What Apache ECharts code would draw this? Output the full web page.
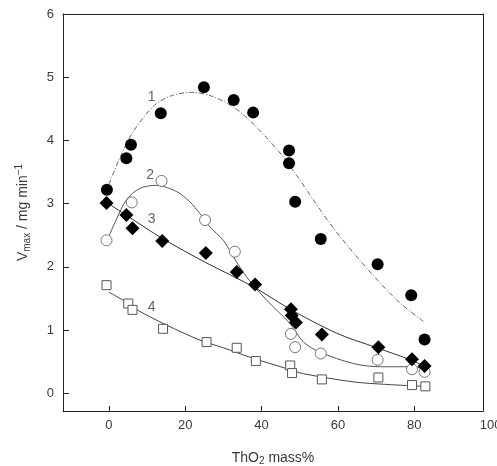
<!DOCTYPE html>
<html>
<head>
<meta charset="utf-8">
<script src="https://cdn.jsdelivr.net/npm/echarts@6/dist/echarts.min.js"></script>
<style>html,body{margin:0;padding:0;background:#fff;}#c{width:497px;height:466px;}</style>
</head>
<body>
<div id="c"></div>
<script>
// ---- data ----
const xTickValues = [0, 20, 40, 60, 80];
const xLabelValues = [0, 20, 40, 60, 80, 100];
const yTickValues = [0, 1, 2, 3, 4, 5, 6];

const points1 = [[-0.5,3.22],[4.6,3.72],[5.8,3.93],[13.6,4.43],[24.9,4.84],[32.7,4.64],[37.8,4.44],[47.2,3.84],[47.2,3.64],[48.8,3.03],[55.5,2.44],[70.4,2.04],[79.2,1.55],[82.7,0.85]];
const points2 = [[-0.6,2.42],[6.0,3.02],[13.8,3.36],[25.2,2.74],[33.0,2.24],[47.7,0.94],[48.8,0.73],[55.5,0.63],[70.4,0.53],[79.4,0.38],[82.7,0.34]];
const points3 = [[-0.6,3.01],[4.6,2.82],[6.2,2.61],[14.0,2.41],[25.4,2.22],[33.5,1.92],[38.3,1.72],[47.7,1.33],[47.9,1.23],[49.0,1.12],[55.8,0.93],[70.6,0.73],[79.4,0.54],[82.7,0.43]];
const points4 = [[-0.6,1.71],[5.1,1.42],[6.2,1.32],[14.2,1.02],[25.6,0.81],[33.5,0.72],[38.5,0.51],[47.5,0.44],[48.0,0.32],[55.8,0.22],[70.6,0.25],[79.4,0.13],[82.9,0.11]];

const curve1 = [[0,3.3],[3,3.74],[6.4,4.14],[12,4.56],[17,4.72],[22,4.76],[27,4.7],[32.6,4.53],[38.7,4.21],[45.7,3.74],[48.8,3.48],[58,2.68],[65.8,2.1],[75.5,1.47],[82.6,1.13]];
const curve2 = [[-0.2,2.45],[1.6,2.7],[4.6,3.06],[8.1,3.24],[12.4,3.29],[17.8,3.19],[21.2,3.03],[23.9,2.84],[26.5,2.63],[30,2.42],[32.6,2.16],[36.1,1.84],[41.4,1.47],[47.5,1.1],[51,0.81],[55.3,0.65],[64.1,0.47],[71.1,0.42],[79,0.42],[82.7,0.39]];
const curve3 = [[-0.6,3.02],[5,2.8],[14,2.45],[25,2.08],[38,1.68],[47.5,1.33],[59.7,0.95],[70.2,0.72],[79,0.53],[82.9,0.42]];
const curve4 = [[0,1.6],[3.8,1.47],[7.7,1.31],[15.1,1.08],[23.9,0.84],[30,0.72],[37,0.57],[46.6,0.39],[51,0.31],[64.1,0.18],[72.8,0.14],[82.4,0.11]];

const curveLabelNames = ['1', '2', '3', '4'];
const curveLabelPos = [[11.2,4.68],[10.8,3.45],[11.2,2.76],[11.2,1.37]];

// ---- chart ----
const chart = echarts.init(document.getElementById('c'), null, {renderer: 'canvas'});
const axisColor = '#222';
const textColor = '#3a3a3a';
const font = 'Liberation Sans, Arial, sans-serif';

function curveSeries(data, color, type) {
  return {type: 'line', data: data, smooth: 0.3, symbol: 'none', silent: true,
    xAxisIndex: 0, yAxisIndex: 0,
    lineStyle: {color: color, width: 1, type: type || 'solid'}, z: 2};
}
function pointSeries(data, symbol, size, style) {
  return {type: 'scatter', data: data, symbol: symbol, symbolSize: size,
    xAxisIndex: 0, yAxisIndex: 0, itemStyle: Object.assign({opacity: 1}, style), z: 3, silent: true};
}

const option = {
  animation: false,
  backgroundColor: '#fff',
  grid: [
    {left: 63, right: 14, top: 14, bottom: 55, containLabel: false, outerBoundsMode: 'none'},
    {left: 63, right: 6.4, top: 14, bottom: 55, containLabel: false, outerBoundsMode: 'none'}
  ],
  xAxis: [
    {type: 'value', gridIndex: 0, min: -12, max: 98, position: 'bottom',
      axisLine: {show: true, onZero: false, lineStyle: {color: axisColor, width: 1}},
      axisTick: {show: true, inside: true, length: 5, customValues: xTickValues, lineStyle: {color: axisColor}},
      axisLabel: {show: false}, splitLine: {show: false},
      name: 'ThO{sub|2} mass%', nameLocation: 'middle', nameGap: 39,
      nameTextStyle: {color: textColor, fontSize: 14, fontFamily: font,
        rich: {sub: {fontSize: 10, verticalAlign: 'bottom', padding: [6,0,0,0], color: textColor, fontFamily: font}}}},
    {type: 'value', gridIndex: 0, min: -12, max: 98, position: 'top',
      axisLine: {show: true, onZero: false, lineStyle: {color: axisColor, width: 1}},
      axisTick: {show: false}, axisLabel: {show: false}, splitLine: {show: false}},
    {type: 'value', gridIndex: 1, min: -12, max: 100, position: 'bottom',
      axisLine: {show: false}, axisTick: {show: false}, splitLine: {show: false},
      axisLabel: {show: true, customValues: xLabelValues, margin: 8, color: textColor, fontSize: 13, fontFamily: font}}
  ],
  yAxis: [
    {type: 'value', gridIndex: 0, min: -0.28, max: 6, position: 'left',
      axisLine: {show: true, onZero: false, lineStyle: {color: axisColor, width: 1}},
      axisTick: {show: true, inside: true, length: 6, customValues: yTickValues, lineStyle: {color: axisColor}},
      axisLabel: {show: true, customValues: yTickValues, margin: 9, color: textColor, fontSize: 13, fontFamily: font},
      splitLine: {show: false},
      name: '{n|V}{sub|max}{n| / mg min}{sup|\u22121}', nameLocation: 'middle', nameGap: 31,
      nameTextStyle: {color: textColor, fontSize: 14, fontFamily: font,
        rich: {n: {fontSize: 14, color: textColor, fontFamily: font},
               sub: {fontSize: 10, verticalAlign: 'bottom', padding: [7,0,0,0], color: textColor, fontFamily: font},
               sup: {fontSize: 10, verticalAlign: 'top', padding: [0,0,8,0], color: textColor, fontFamily: font}}}},
    {type: 'value', gridIndex: 0, min: -0.28, max: 6, position: 'right',
      axisLine: {show: true, onZero: false, lineStyle: {color: axisColor, width: 1}},
      axisTick: {show: false}, axisLabel: {show: false}, splitLine: {show: false}},
    {type: 'value', gridIndex: 1, min: -0.28, max: 6, show: false}
  ],
  series: [
    curveSeries(curve1, '#666', [5, 2, 1, 2]),
    curveSeries(curve2, '#555'),
    curveSeries(curve3, '#333'),
    curveSeries(curve4, '#444'),
    pointSeries(points1, 'circle', 12, {color: '#000'}),
    pointSeries(points2, 'circle', 11, {color: '#fff', borderColor: '#777', borderWidth: 1}),
    pointSeries(points3, 'diamond', 14, {color: '#000'}),
    pointSeries(points4, 'rect', 9, {color: '#fff', borderColor: '#555', borderWidth: 1}),
    {type: 'scatter', xAxisIndex: 0, yAxisIndex: 0, symbolSize: 0, silent: true, z: 4,
      data: curveLabelPos.map((p, i) => ({value: p, name: curveLabelNames[i]})),
      label: {show: true, position: 'inside', formatter: '{b}', color: textColor, fontSize: 14, fontFamily: font}}
  ]
};
chart.setOption(option);
</script>
</body>
</html>
